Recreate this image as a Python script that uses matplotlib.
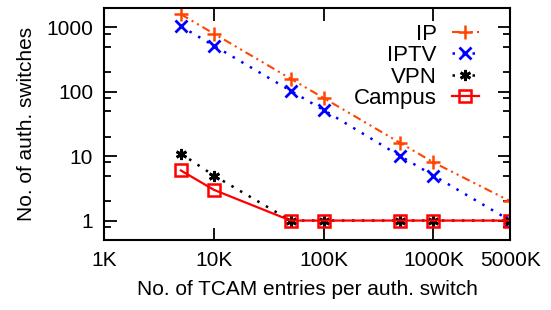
import matplotlib.pyplot as plt
from matplotlib.ticker import FixedLocator, NullFormatter

plt.rcParams['font.family'] = ['Liberation Sans', 'DejaVu Sans']

# data
entries = [5e3, 1e4, 5e4, 1e5, 5e5, 1e6, 5e6]
ip = [1600, 800, 160, 80, 16, 8, 2]
iptv = [1040, 520, 104, 52, 10, 5, 1]
vpn = [11, 5, 1, 1, 1, 1, 1]
campus = [6, 3, 1, 1, 1, 1, 1]

xticks = [1e3, 1e4, 1e5, 1e6, 5e6]
xlabels = ['1K', '10K', '100K', '1000K', '5000K']
yticks = [1, 10, 100, 1000]
ylabels = ['1', '10', '100', '1000']

fig = plt.figure(figsize=(5.51, 3.10), dpi=100)
ax = fig.add_axes([0.189, 0.226, 0.737, 0.748])

ax.plot(entries, ip, color='#ff4500', lw=1.5, dashes=(4, 2, 1, 2, 1, 2),
        marker='+', ms=10, mew=1.8, label='IP')
ax.plot(entries, iptv, color='#0000ff', lw=1.8, dashes=(1, 3),
        marker='x', ms=8, mew=2, label='IPTV')
ax.plot(entries, vpn, color='black', lw=1.8, dashes=(1, 3),
        marker=(6, 2, 0), ms=8, mew=2, label='VPN')
ax.plot(entries, campus, color='#ff0000', lw=1.6,
        marker='s', ms=8, mfc='none', mew=1.8, label='Campus')

ax.set_xscale('log')
ax.set_yscale('log')
ax.set_xlim(1e3, 5e6)
ax.set_ylim(0.5, 2000)

ax.xaxis.set_major_locator(FixedLocator(xticks))
ax.set_xticklabels(xlabels)
ax.xaxis.set_minor_locator(FixedLocator([]))
ax.yaxis.set_major_locator(FixedLocator(yticks))
ax.set_yticklabels(ylabels)
minor = [m * d for d in [0.1, 1, 10, 100, 1000] for m in (2, 5, 8)]
ax.yaxis.set_minor_locator(FixedLocator(minor))
ax.yaxis.set_minor_formatter(NullFormatter())

ax.tick_params(which='both', direction='in', top=True, right=True,
               labelsize=15, width=1.3, pad=8)
ax.tick_params(which='major', length=9)
ax.tick_params(which='minor', length=5)
for s in ax.spines.values():
    s.set_linewidth(1.5)

ax.set_xlabel('No. of TCAM entries per auth. switch', fontsize=15, labelpad=7)
ax.set_ylabel('No. of auth. switches', fontsize=15, labelpad=7)

ax.legend(loc='upper right', frameon=False, markerfirst=False, fontsize=16,
          handlelength=1.2, handletextpad=0.7, labelspacing=0.02,
          borderaxespad=0.2, borderpad=0.3, bbox_to_anchor=(0.95, 0.98))

fig.savefig('out.png', dpi=100)
